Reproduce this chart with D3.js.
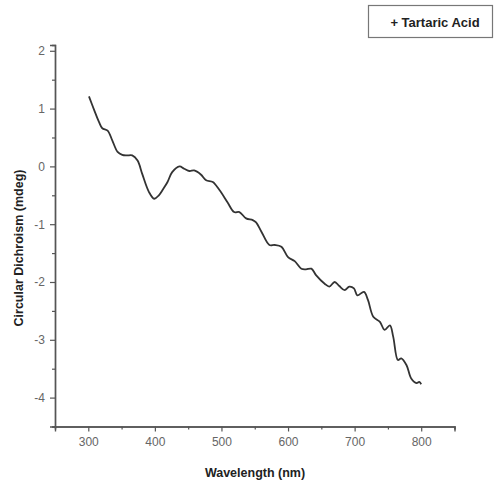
<!DOCTYPE html>
<html><head><meta charset="utf-8">
<script src="https://cdn.jsdelivr.net/npm/d3@7/dist/d3.min.js"></script>
<style>
body{margin:0;background:#fff;}
svg{display:block;font-family:"Liberation Sans",Arial,sans-serif;}
</style></head><body>
<svg id="c" width="498" height="488"></svg>
<script>
const wavelengths = [301,309,316,321,329,336,344,351,358,366,374,381,391,399,406,412,419,426,437,444,452,459,469,477,487,497,509,519,527,537,547,552,560,572,580,590,600,610,620,627,635,642,655,662,670,677,685,692,699,704,714,720,728,738,745,753,758,765,770,778,785,793,797,800];
const cdValues = [1.21,0.97,0.77,0.66,0.62,0.45,0.25,0.20,0.19,0.19,0.10,-0.13,-0.44,-0.56,-0.50,-0.40,-0.27,-0.10,0.00,-0.04,-0.08,-0.07,-0.14,-0.24,-0.27,-0.41,-0.62,-0.79,-0.79,-0.90,-0.93,-0.97,-1.13,-1.36,-1.36,-1.39,-1.57,-1.64,-1.77,-1.78,-1.77,-1.88,-2.03,-2.08,-2.00,-2.07,-2.14,-2.08,-2.11,-2.23,-2.17,-2.31,-2.60,-2.69,-2.83,-2.75,-2.95,-3.35,-3.32,-3.44,-3.67,-3.75,-3.73,-3.77];
const xTicks = [300,400,500,600,700,800];
const xMinorTicks = [250,350,450,550,650,750,850];
const yTicks = [-4,-3,-2,-1,0,1,2];
const yMinorTicks = [-4.5,-3.5,-2.5,-1.5,-0.5,0.5,1.5];
const seriesName = "+ Tartaric Acid";
const xTitle = "Wavelength (nm)";
const yTitle = "Circular Dichroism (mdeg)";

const svg = d3.select("#c");
const x = d3.scaleLinear().domain([250,850]).range([55,454.5]);
const y = d3.scaleLinear().domain([-4.5,2.1]).range([426.5,45]);
const axisColor = "#555";
const fmt = d => String(d);

svg.append("g").attr("transform","translate(0,426.5)")
  .call(d3.axisBottom(x).tickValues(xTicks).tickSize(5).tickPadding(6).tickFormat(fmt));
svg.append("g").attr("transform","translate(0,426.5)")
  .call(d3.axisBottom(x).tickValues(xMinorTicks).tickSize(3).tickFormat(""));
svg.append("g").attr("transform","translate(55,0)")
  .call(d3.axisLeft(y).tickValues(yTicks).tickSize(5).tickPadding(5).tickFormat(fmt));
svg.append("g").attr("transform","translate(55,0)")
  .call(d3.axisLeft(y).tickValues(yMinorTicks).tickSize(3).tickFormat(""));
svg.selectAll(".domain").attr("stroke",axisColor).attr("stroke-width",1.4);
svg.selectAll(".tick line").attr("stroke",axisColor).attr("stroke-width",1.2);
svg.selectAll(".tick text").attr("fill","#666").attr("font-size",12).attr("font-family","Liberation Sans, Arial, sans-serif");

const pts = wavelengths.map((w,i)=>[w,cdValues[i]]);
const line = d3.line().x(d=>x(d[0])).y(d=>y(d[1])).curve(d3.curveCatmullRom.alpha(0.5));
svg.append("path").datum(pts).attr("d",line)
  .attr("fill","none").attr("stroke","#333").attr("stroke-width",1.8).attr("stroke-linejoin","round");

svg.append("text").attr("x",255).attr("y",477).attr("text-anchor","middle")
  .attr("font-weight","bold").attr("font-size",12.5).attr("fill","#222").text(xTitle);
svg.append("text").attr("transform","translate(23,248) rotate(-90)").attr("text-anchor","middle")
  .attr("font-weight","bold").attr("font-size",12.5).attr("fill","#222").text(yTitle);

const lg = svg.append("g");
lg.append("rect").attr("x",368.5).attr("y",5.5).attr("width",124).attr("height",32)
  .attr("fill","#fff").attr("stroke","#777").attr("stroke-width",1.2);
lg.append("text").attr("x",435).attr("y",26.5).attr("text-anchor","middle")
  .attr("font-weight","bold").attr("font-size",13).attr("fill","#222").text(seriesName);
</script>
</body></html>
